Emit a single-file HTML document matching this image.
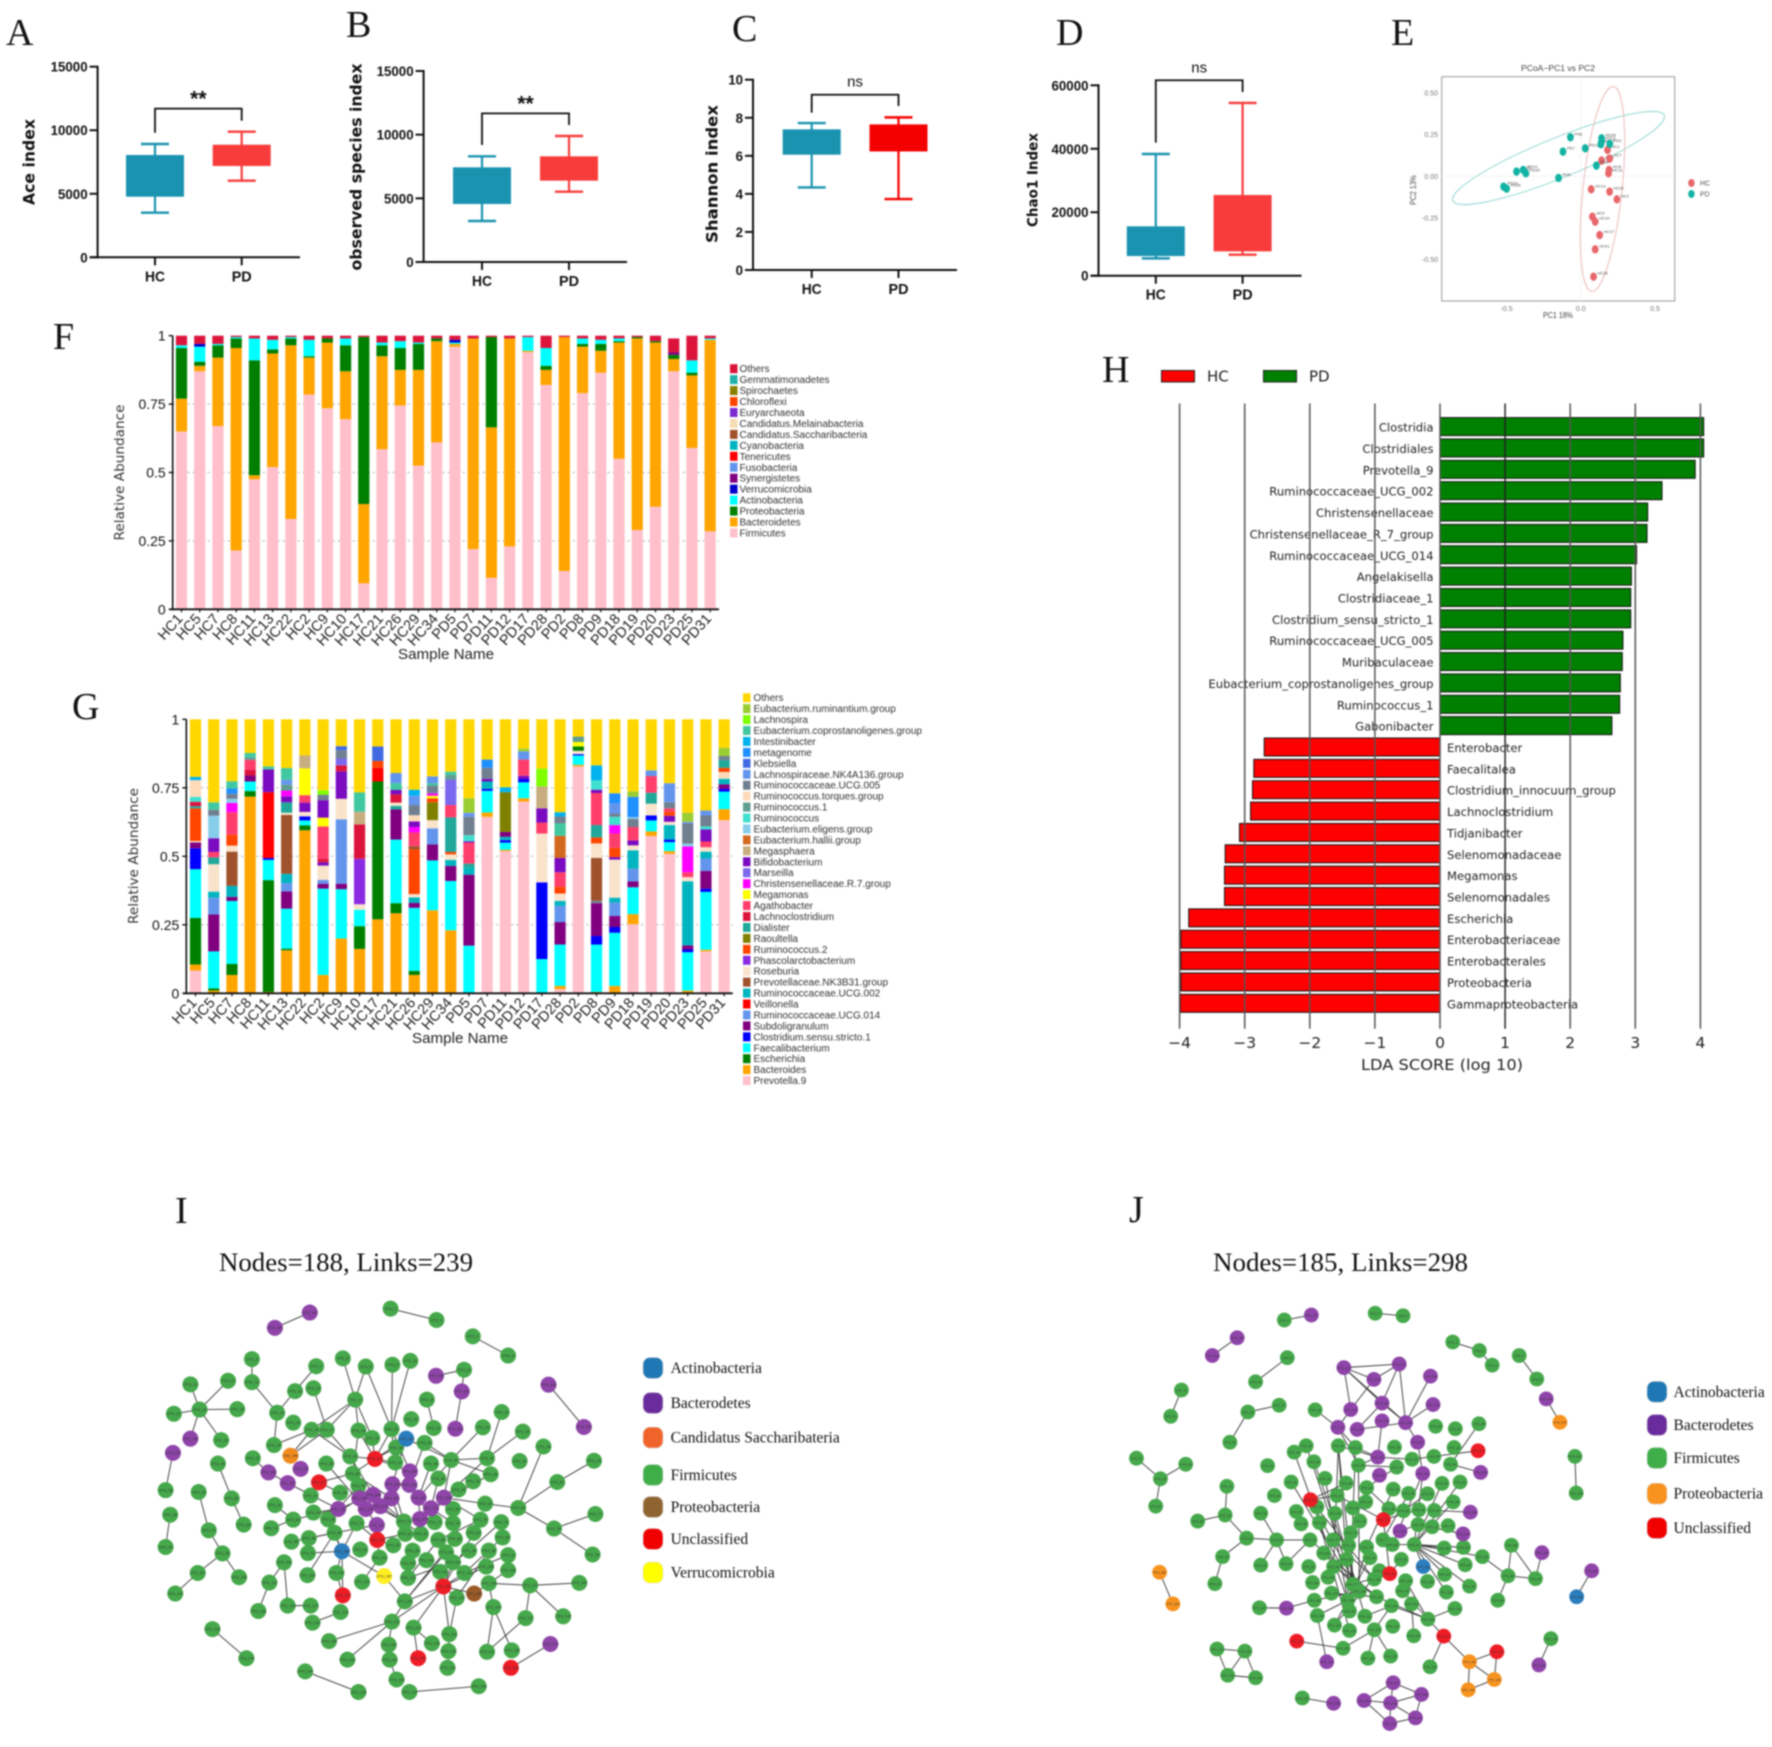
<!DOCTYPE html>
<html lang="en">
<head>
<meta charset="utf-8">
<title>Gut microbiota composite figure</title>
<style>
html,body{margin:0;padding:0;background:#fff;}
#figure{display:block;width:1772px;height:1747px;filter:blur(0.7px);}
text{font-family:"Liberation Sans",sans-serif;fill:#111;}
.serif{font-family:"Liberation Serif",serif;}
.dv{font-family:"DejaVu Sans","Liberation Sans",sans-serif;}
</style>
</head>
<body>
<svg id="figure" xmlns="http://www.w3.org/2000/svg" width="1772" height="1747" viewBox="0 0 1772 1747">
<rect x="0" y="0" width="1772" height="1747" fill="#fff"/>
<text class="serif" x="6" y="45" font-size="38">A</text>
<text class="serif" x="346" y="37" font-size="38">B</text>
<text class="serif" x="732" y="41" font-size="38">C</text>
<text class="serif" x="1056" y="45" font-size="38">D</text>
<text class="serif" x="1391" y="45" font-size="38">E</text>
<text class="serif" x="53" y="349" font-size="38">F</text>
<text class="serif" x="72" y="719" font-size="38">G</text>
<text class="serif" x="1102" y="382" font-size="38">H</text>
<text class="serif" x="175" y="1223" font-size="38">I</text>
<text class="serif" x="1129" y="1222" font-size="38">J</text>
<text class="serif" x="219" y="1271" font-size="26" textLength="254" lengthAdjust="spacingAndGlyphs">Nodes=188, Links=239</text>
<text class="serif" x="1213" y="1271" font-size="26" textLength="255" lengthAdjust="spacingAndGlyphs">Nodes=185, Links=298</text>
</svg>
<script>
/* ---------- box plot data: [whisker low, q1, q3, whisker high] ---------- */
const aceHC=[3510,4770,8050,8916];
const acePD=[6030,7185,8860,9886];
const aceTicks=[0,5000,10000,15000];
const aceBracket=[11700,9800,10750];
const obsHC=[3220,4555,7435,8300];
const obsPD=[5525,6390,8300,9895];
const obsTicks=[0,5000,10000,15000];
const obsBracket=[11675,9190,10760];
const shanHC=[4.34,6.06,7.39,7.72];
const shanPD=[3.73,6.23,7.65,8.02];
const shanTicks=[0,2,4,6,8,10];
const shanBracket=[9.21,8.27,8.62];
const chaoHC=[5460,6200,15550,38350];
const chaoPD=[6620,7670,25430,54430];
const chaoTicks=[0,20000,40000,60000];
const chaoBracket=[61580,41930,57900];

/* ---------- PCoA data ---------- */
const pcoaPC1Ticks=[-0.5,0,0.5];
const pcoaPC2Ticks=[-0.5,-0.25,0,0.25,0.5];
const pcoaHCx=[.18,.14,.194,.19,.187,.07,.194,.243,.078,.097,.127,.097,.086];
const pcoaHCy=[.158,.094,.106,.038,.018,-.078,-.092,-.138,-.242,-.272,-.352,-.438,-.602];
const pcoaPDx=[-.07,-.12,.03,.14,.135,.14,.195,.105,-.15,-.433,-.388,-.37,-.52,-.5];
const pcoaPDy=[.234,.148,.168,.208,.192,.228,.194,.064,-.01,.028,.038,.018,-.062,-.074];
const pcoaHCNames=['HC1','HC5','HC7','HC8','HC11','HC13','HC22','HC2','HC9','HC10','HC17','HC21','HC26'];
const pcoaPDNames=['PD5','PD7','PD11','PD12','PD17','PD28','PD2','PD8','PD9','PD18','PD19','PD20','PD23','PD25'];

/* ---------- stacked bars ---------- */
const sampleNames=['HC1','HC5','HC7','HC8','HC11','HC13','HC22','HC2','HC9','HC10','HC17','HC21','HC26','HC29','HC34','PD5','PD7','PD11','PD12','PD17','PD28','PD2','PD8','PD9','PD18','PD19','PD20','PD23','PD25','PD31'];
const abundanceTicks=[0,0.25,0.5,0.75,1];
const phylumLegend=['Others','Gemmatimonadetes','Spirochaetes','Chloroflexi','Euryarchaeota','Candidatus.Melainabacteria','Candidatus.Saccharibacteria','Cyanobacteria','Tenericutes','Fusobacteria','Synergistetes','Verrucomicrobia','Actinobacteria','Proteobacteria','Bacteroidetes','Firmicutes'];
const phylumColors=['#DC143C','#20B2AA','#8B8000','#FF4500','#7B2BD0','#F5DEB3','#A0522D','#00B5C0','#FF0000','#6495ED','#800080','#0000CD','#00FFFF','#007F00','#FFA500','#FFC0CB'];
const firmicutes=[.65,.87,.67,.215,.475,.52,.33,.785,.735,.695,.095,.585,.745,.525,.61,.96,.22,.115,.23,.94,.82,.14,.79,.865,.55,.29,.375,.87,.59,.285];
const bacteroidetes=[.12,.02,.25,.74,.015,.415,.635,.135,.24,.175,.29,.34,.13,.35,.37,.01,.77,.55,.76,.005,.055,.855,.17,.08,.425,.70,.60,.045,.265,.70];
const proteobacteria=[.185,.015,.045,.035,.42,.015,.025,.005,.015,.095,.61,.04,.08,.095,.01,0,0,.33,0,0,.015,0,.01,.025,.005,.005,.005,.015,.01,0];
const actinobacteria=[.01,.055,.005,.005,.08,.035,.005,.06,0,.025,0,.01,.025,.005,0,.005,0,0,0,.05,.065,0,.02,.015,.01,0,0,0,.045,.005];
const verrucomicrobia=[0,.01,0,0,0,0,0,0,0,0,0,0,0,0,0,.01,0,0,0,0,0,0,0,0,0,0,0,0,0,0];
const synergistetes=[0,0,0,0,0,0,0,0,0,0,0,0,0,0,0,0,0,0,0,0,0,0,0,0,0,0,0,.01,0,0];
const phylumOthers=[.035,.03,.03,.005,.01,.015,.005,.015,.01,.01,.005,.025,.02,.025,.01,.015,.01,.005,.01,.005,.045,.005,.01,.015,.01,.005,.02,.05,.09,.01];

const genusLegend=['Others','Eubacterium.ruminantium.group','Lachnospira','Eubacterium.coprostanoligenes.group','Intestinibacter','metagenome','Klebsiella','Lachnospiraceae.NK4A136.group','Ruminococcaceae.UCG.005','Ruminococcus.torques.group','Ruminococcus.1','Ruminococcus','Eubacterium.eligens.group','Eubacterium.hallii.group','Megasphaera','Bifidobacterium','Marseilla','Christensenellaceae.R.7.group','Megamonas','Agathobacter','Lachnoclostridium','Dialister','Raoultella','Ruminococcus.2','Phascolarctobacterium','Roseburia','Prevotellaceae.NK3B31.group','Ruminococcaceae.UCG.002','Veillonella','Ruminococcaceae.UCG.014','Subdoligranulum','Clostridium.sensu.stricto.1','Faecalibacterium','Escherichia','Bacteroides','Prevotella.9'];
const genusKeys=['Oth','Rmn','Lch','Cop','Int','Met','Kle','NK4','U05','Tor','R1','Rum','Eli','Hal','Mgs','Bif','Mar','Chr','Meg','Aga','Lac','Dia','Rao','R2','Pha','Ros','Pre','U02','Vei','U14','Sub','Css','Fae','Esc','Bac','P9'];
const genusColors=['#FFD700','#9ACD32','#7FFF00','#40C8A0','#00B2EE','#1E90FF','#4169E1','#6495ED','#708090','#FFDAB9','#5F9E90','#40E0D0','#87CEEB','#D2691E','#C8AD7F','#7A0BC0','#7B68EE','#FF00FF','#FFFF00','#FF3E6C','#DC143C','#20A89A','#808000','#FF4500','#8A2BE2','#FAE3CB','#A0522D','#00B5C0','#FF0000','#6495ED','#800080','#0000FF','#00FFFF','#008000','#FFA500','#FFC0CB'];
/* one flat stack per sample, bottom to top: genus key, abundance */
const gHC1=['P9',.083,'Bac',.022,'Esc',.17,'Fae',.178,'Css',.076,'Sub',.022,'Ros',.005,'R2',.119,'Dia',.008,'Lac',.016,'Rum',.018,'Tor',.061,'Int',.012,'Oth',.21];
const gHC5=['Bac',.01,'Esc',.008,'Fae',.135,'Sub',.135,'U14',.061,'U02',.022,'Ros',.10,'Dia',.025,'Aga',.02,'Bif',.05,'Eli',.082,'U05',.022,'Cop',.027,'Oth',.303];
const gHC7=['Bac',.067,'Esc',.04,'Fae',.23,'Sub',.015,'U02',.04,'Pre',.125,'Ros',.022,'R2',.04,'Aga',.082,'Chr',.034,'Eli',.015,'U05',.018,'Met',.02,'Cop',.026,'Oth',.226];
const gHC8=['Bac',.718,'Esc',.02,'Fae',.035,'Sub',.022,'Lac',.02,'Aga',.037,'R1',.009,'Cop',.016,'Oth',.123];
const gHC11=['Bac',.005,'Esc',.408,'Fae',.074,'Css',.007,'Vei',.24,'Bif',.083,'Cop',.011,'Oth',.172];
const gHC13=['Bac',.157,'Esc',.006,'Fae',.146,'Sub',.063,'U14',.03,'U02',.034,'Pre',.215,'Ros',.008,'Dia',.038,'Bif',.022,'Chr',.021,'R1',.021,'NK4',.018,'Cop',.043,'Oth',.178];
const gHC22=['Bac',.595,'Esc',.018,'Fae',.018,'Css',.015,'Ros',.016,'Bif',.034,'Aga',.027,'Meg',.098,'Mgs',.047,'Oth',.132];
const gHC2=['Bac',.067,'Fae',.315,'Sub',.018,'U14',.014,'Ros',.052,'Bif',.012,'Lac',.012,'Aga',.119,'Meg',.032,'Bif',.064,'U05',.02,'Lch',.016,'Oth',.259];
const gHC9=['Bac',.2,'Fae',.18,'Sub',.02,'U14',.235,'Ros',.075,'Bif',.1,'Lac',.022,'Mar',.025,'U05',.03,'Kle',.015,'Oth',.098];
const gHC10=['Bac',.162,'Esc',.083,'Fae',.06,'Ros',.02,'Pha',.166,'Lac',.125,'Mgs',.047,'Cop',.07,'Oth',.267];
const gHC17=['Bac',.27,'Esc',.503,'Vei',.05,'R2',.025,'Kle',.053,'Oth',.099];
const gHC21=['Bac',.292,'Esc',.037,'Fae',.232,'Sub',.11,'Dia',.013,'Ros',.012,'Lac',.03,'Bif',.016,'Cop',.025,'U14',.037,'Oth',.196];
const gHC26=['Bac',.067,'Esc',.015,'Fae',.23,'Sub',.018,'U02',.02,'Ros',.012,'R2',.163,'Pre',.012,'Aga',.05,'Chr',.02,'Bif',.02,'Tor',.023,'U05',.037,'NK4',.034,'Int',.022,'Oth',.257];
const gHC29=['Bac',.303,'Fae',.182,'Sub',.058,'U14',.059,'Ros',.03,'Rao',.065,'R2',.015,'Meg',.009,'Chr',.009,'U05',.028,'Cop',.009,'NK4',.025,'Oth',.208];
const gHC34=['Bac',.23,'Fae',.18,'Sub',.055,'U02',.022,'Ros',.02,'R2',.009,'Dia',.126,'Aga',.045,'Mar',.093,'R1',.017,'Cop',.012,'Oth',.191];
const gPD5=['Fae',.174,'Sub',.259,'U02',.025,'Dia',.015,'Aga',.077,'Bif',.005,'Rum',.022,'U05',.067,'NK4',.015,'Rmn',.053,'Oth',.288];
const gPD7=['P9',.644,'Bac',.016,'Fae',.079,'Css',.007,'U02',.027,'Bif',.01,'U05',.04,'Met',.03,'Oth',.147];
const gPD11=['P9',.519,'Bac',.005,'Fae',.026,'Css',.009,'U02',.012,'Sub',.018,'Rao',.145,'Int',.018,'Oth',.248];
const gPD12=['P9',.70,'Bac',.012,'Fae',.058,'Css',.012,'Bif',.012,'Aga',.059,'U14',.03,'Rmn',.01,'Oth',.107];
const gPD17=['Fae',.125,'Css',.28,'Ros',.178,'Aga',.04,'Bif',.052,'Mgs',.08,'Lch',.065,'Oth',.18];
const gPD28=['P9',.015,'Bac',.012,'Fae',.151,'Sub',.082,'U14',.059,'U02',.018,'Ros',.027,'R2',.025,'Aga',.053,'Bif',.052,'Hal',.081,'Cop',.045,'U05',.025,'Int',.016,'Oth',.339];
const gPD2=['P9',.828,'Bac',.006,'Fae',.034,'Css',.005,'Ros',.012,'Esc',.016,'Meg',.016,'R1',.02,'Oth',.063];
const gPD8=['Bac',.005,'Fae',.173,'Css',.031,'Sub',.12,'U05',.009,'Pre',.156,'Ros',.053,'R2',.022,'Dia',.045,'Aga',.117,'Bif',.012,'Rum',.034,'Int',.055,'Oth',.168];
const gPD9=['Bac',.027,'Fae',.194,'Css',.021,'Sub',.04,'U14',.049,'U02',.018,'Ros',.139,'Bif',.009,'R2',.034,'Aga',.052,'Chr',.031,'Rum',.03,'U05',.012,'NK4',.037,'Met',.037,'Oth',.27];
const gPD18=['P9',.252,'Bac',.037,'Fae',.098,'Sub',.021,'U14',.047,'U02',.067,'Ros',.018,'Bif',.018,'Aga',.049,'U05',.03,'Eli',.006,'Met',.074,'Rmn',.02,'Oth',.263];
const gPD19=['P9',.574,'Bac',.017,'Fae',.04,'Css',.018,'Ros',.043,'Dia',.04,'Aga',.061,'U14',.021,'Oth',.186];
const gPD20=['P9',.509,'Bac',.01,'Fae',.033,'Css',.009,'U02',.053,'Ros',.012,'Bif',.022,'R2',.015,'Aga',.012,'U05',.022,'NK4',.07,'Oth',.233];
const gPD23=['Bac',.01,'Fae',.14,'Css',.01,'Sub',.015,'U02',.234,'Ros',.015,'Aga',.018,'Chr',.094,'Eli',.01,'U05',.074,'NK4',.006,'Rmn',.033,'Oth',.341];
const gPD25=['P9',.153,'Bac',.006,'Fae',.211,'Css',.012,'Sub',.065,'U14',.045,'U02',.025,'Ros',.016,'Aga',.021,'Bif',.044,'Rum',.011,'U05',.04,'NK4',.018,'Oth',.333];
const gPD31=['P9',.632,'Bac',.04,'Fae',.064,'Css',.01,'Sub',.017,'U02',.02,'Tor',.025,'R2',.015,'Dia',.028,'U05',.015,'Rmn',.03,'Oth',.104];
const genusStacks=[gHC1,gHC5,gHC7,gHC8,gHC11,gHC13,gHC22,gHC2,gHC9,gHC10,gHC17,gHC21,gHC26,gHC29,gHC34,gPD5,gPD7,gPD11,gPD12,gPD17,gPD28,gPD2,gPD8,gPD9,gPD18,gPD19,gPD20,gPD23,gPD25,gPD31];

/* ---------- LDA ---------- */
const ldaTicks=[-4,-3,-2,-1,0,1,2,3,4];
const ldaNames=['Clostridia','Clostridiales','Prevotella_9','Ruminococcaceae_UCG_002','Christensenellaceae','Christensenellaceae_R_7_group','Ruminococcaceae_UCG_014','Angelakisella','Clostridiaceae_1','Clostridium_sensu_stricto_1','Ruminococcaceae_UCG_005','Muribaculaceae','Eubacterium_coprostanoligenes_group','Ruminococcus_1','Gabonibacter','Enterobacter','Faecalitalea','Clostridium_innocuum_group','Lachnoclostridium','Tidjanibacter','Selenomonadaceae','Megamonas','Selenomonadales','Escherichia','Enterobacteriaceae','Enterobacterales','Proteobacteria','Gammaproteobacteria'];
const ldaScores=[4.05,4.05,3.92,3.41,3.19,3.18,3.02,2.94,2.93,2.93,2.81,2.80,2.77,2.76,2.64,-2.70,-2.86,-2.88,-2.91,-3.08,-3.30,-3.31,-3.31,-3.86,-3.98,-3.98,-3.98,-3.99];

/* ---------- network I (layout units) ---------- */
const netIFirmicutes=[[524,334],[624,366],[703,412],[780,466],[222,476],[420,474],[362,496],[470,497],[528,492],[567,481],[684,506],[170,537],[88,547],[222,541],[356,558],[316,566],[447,590],[603,590],[766,625],[108,618],[52,630],[190,617],[277,627],[312,655],[155,704],[352,675],[385,675],[454,677],[526,673],[569,645],[618,670],[725,668],[812,680],[484,698],[598,712],[270,718],[224,755],[857,722],[436,750],[536,725],[656,760],[734,755],[805,763],[967,762],[148,770],[384,770],[534,767],[612,770],[742,800],[442,798],[887,822],[704,820],[628,812],[672,843],[454,832],[414,852],[350,860],[34,845],[106,850],[178,868],[272,887],[730,883],[802,895],[356,908],[312,928],[388,927],[660,898],[44,914],[204,942],[264,952],[450,938],[553,933],[620,935],[660,938],[720,928],[765,935],[970,912],[880,953],[128,958],[402,965],[556,968],[590,968],[705,965],[768,978],[308,990],[346,980],[530,1000],[628,985],[664,982],[34,1005],[344,1022],[458,1012],[572,1015],[645,1020],[695,1015],[738,1015],[780,1028],[964,1026],[158,1023],[292,1048],[500,1035],[562,1050],[602,1042],[660,1048],[732,1060],[780,1070],[104,1078],[194,1090],[343,1084],[406,1078],[632,1075],[685,1078],[562,1092],[462,1103],[260,1105],[738,1107],[828,1113],[935,1106],[55,1136],[300,1170],[350,1170],[555,1158],[668,1148],[748,1174],[236,1185],[415,1188],[818,1205],[900,1200],[354,1218],[527,1215],[574,1232],[652,1250],[136,1236],[390,1270],[614,1276],[520,1280],[734,1300],[788,1296],[650,1298],[210,1318],[430,1322],[522,1322],[648,1345],[338,1355],[537,1378],[454,1413],[565,1413],[716,1397]];
const netIBacteroidetes=[[348,345],[272,388],[623,523],[679,567],[868,548],[945,667],[665,672],[88,700],[50,740],[258,795],[328,785],[300,825],[566,792],[528,828],[565,830],[486,858],[456,868],[526,868],[585,866],[640,866],[410,898],[470,898],[502,890],[612,896],[588,926],[494,943],[872,1278]];
const netIUnclassified=[[490,757],[368,823],[495,985],[420,1141],[639,1116],[584,1318],[786,1345]];
const netIActinobacteria=[[558,700],[418,1017]];
const netISaccharibacteria=[[306,748]];
const netIProteobacteria=[[706,1136]];
const netIVerrucomicrobia=[[510,1087]];
const netIEdges=[[524,334,624,366],[703,412,780,466],[348,345,272,388],[222,476,222,541],[222,541,277,627],[170,537,108,618],[88,547,108,618],[52,630,108,618],[190,617,108,618],[108,618,88,700],[108,618,155,704],[362,496,316,566],[316,566,277,627],[277,627,270,718],[420,474,447,590],[470,497,447,590],[470,497,526,673],[528,492,526,673],[567,481,526,673],[623,523,684,506],[684,506,679,567],[679,567,665,672],[868,548,945,667],[766,625,734,755],[603,590,618,670],[447,590,385,675],[447,590,352,675],[447,590,454,677],[447,590,484,698],[356,558,385,675],[352,675,270,718],[812,680,734,755],[725,668,656,760],[656,760,558,700],[656,760,598,712],[656,760,734,755],[656,760,742,800],[857,722,802,895],[967,762,887,822],[887,822,802,895],[802,895,730,883],[802,895,880,953],[970,912,880,953],[880,953,964,1026],[730,883,640,866],[148,770,178,868],[178,868,204,942],[50,740,34,845],[44,914,34,1005],[106,850,128,958],[128,958,158,1023],[158,1023,104,1078],[104,1078,55,1136],[158,1023,194,1090],[292,1048,260,1105],[292,1048,300,1170],[300,1170,350,1170],[260,1105,236,1185],[224,755,258,795],[258,795,300,825],[300,825,410,898],[306,748,352,675],[306,748,385,675],[490,757,436,750],[490,757,536,725],[490,757,442,798],[490,757,526,673],[490,757,454,677],[490,757,484,698],[490,757,558,700],[490,757,534,767],[490,757,566,792],[368,823,442,798],[368,823,414,852],[368,823,350,860],[454,677,442,798],[385,675,436,750],[352,675,436,750],[526,673,534,767],[526,673,566,792],[558,700,528,828],[598,712,565,830],[612,770,585,866],[628,812,612,896],[672,843,640,866],[656,760,585,866],[656,760,640,866],[734,755,640,866],[742,800,612,896],[704,820,588,926],[436,750,486,858],[442,798,526,868],[454,832,502,890],[384,770,470,898],[410,898,486,858],[410,898,454,832],[456,868,553,933],[486,858,553,933],[526,868,556,968],[585,866,590,968],[612,896,660,938],[640,866,720,928],[470,898,494,943],[502,890,590,968],[528,828,553,933],[565,830,620,935],[566,792,526,868],[388,927,456,868],[356,908,410,898],[312,928,410,898],[264,952,312,928],[272,887,312,928],[402,965,494,943],[346,980,402,965],[308,990,402,965],[344,1022,418,1017],[343,1084,402,965],[418,1017,402,965],[418,1017,388,927],[418,1017,450,938],[418,1017,510,1087],[418,1017,406,1078],[418,1017,420,1141],[420,1141,406,1078],[495,985,494,943],[495,985,530,1000],[495,985,500,1035],[495,985,450,938],[495,985,556,968],[500,1035,462,1103],[510,1087,555,1158],[639,1116,555,1158],[639,1116,660,1048],[639,1116,527,1215],[639,1116,574,1232],[639,1116,652,1250],[639,1116,685,1078],[639,1116,632,1075],[639,1116,668,1148],[706,1136,738,1107],[706,1136,639,1116],[555,1158,527,1215],[527,1215,390,1270],[527,1215,520,1280],[520,1280,522,1322],[522,1322,537,1378],[430,1322,527,1215],[574,1232,584,1318],[652,1250,668,1148],[652,1250,650,1298],[650,1298,648,1345],[614,1276,574,1232],[748,1174,738,1107],[748,1174,734,1300],[748,1174,788,1296],[818,1205,734,1300],[828,1113,738,1107],[828,1113,935,1106],[828,1113,818,1205],[828,1113,900,1200],[872,1278,786,1345],[136,1236,210,1318],[338,1355,454,1413],[565,1413,716,1397],[354,1218,415,1188],[628,985,562,1092],[645,1020,555,1158],[660,1048,562,1092],[695,1015,632,1075],[738,1015,668,1148],[705,965,639,1116],[768,978,685,1078],[780,1028,685,1078],[732,1060,639,1116],[720,928,628,985],[765,935,695,1015],[664,982,555,1158],[780,1070,738,1107]];

/* ---------- network J (layout units) ---------- */
const netJFirmicutes=[[430,366],[642,347],[707,354],[823,428],[885,452],[915,493],[978,466],[1019,532],[437,472],[363,540],[190,563],[165,637],[418,606],[345,625],[502,619],[303,710],[85,755],[200,772],[141,813],[130,890],[296,834],[292,915],[228,932],[342,980],[412,985],[286,1032],[268,1108],[375,910],[375,1056],[434,1052],[391,776],[446,822],[407,860],[453,738],[481,720],[556,720],[596,725],[687,724],[499,765],[603,775],[692,780],[728,758],[779,750],[826,725],[818,772],[783,665],[829,672],[884,658],[574,825],[525,812],[798,826],[840,822],[684,842],[622,838],[720,854],[764,855],[553,860],[824,878],[506,892],[458,905],[590,895],[548,910],[620,878],[674,897],[708,903],[744,900],[780,902],[469,940],[512,936],[606,932],[660,985],[742,942],[775,948],[812,945],[585,965],[490,985],[544,985],[580,1000],[622,1005],[682,998],[733,998],[803,1008],[848,1006],[892,1032],[960,1000],[952,1086],[1016,1094],[928,1155],[522,1022],[575,1040],[630,1035],[703,1040],[852,1055],[487,1060],[545,1060],[652,1072],[804,1082],[862,1115],[496,1105],[532,1090],[590,1110],[640,1095],[713,1100],[764,1102],[808,1132],[500,1155],[540,1135],[578,1155],[605,1130],[645,1145],[706,1128],[680,1170],[727,1165],[372,1176],[828,1178],[507,1198],[582,1185],[618,1200],[765,1208],[547,1225],[683,1228],[582,1240],[640,1238],[732,1255],[567,1290],[625,1318],[678,1312],[770,1342],[273,1292],[338,1298],[298,1366],[363,1373],[472,1430],[1108,750],[1111,853],[1052,1263]];
const netJBacteroidetes=[[493,352],[320,416],[262,466],[569,500],[698,490],[771,524],[639,533],[585,618],[658,600],[777,604],[555,668],[600,674],[658,650],[713,655],[741,710],[648,752],[652,803],[753,798],[888,795],[864,907],[700,960],[847,968],[1031,1021],[435,1177],[1147,1072],[1041,588],[529,1328],[1024,1337],[545,1445],[616,1437],[684,1387],[750,1420],[678,1444],[676,1502],[736,1486]];
const netJUnclassified=[[882,734],[491,872],[661,928],[676,1080],[459,1270],[802,1256],[926,1300]];
const netJProteobacteria=[[1073,654],[139,1076],[170,1165],[862,1328],[920,1378],[859,1407]];
const netJActinobacteria=[[754,1060],[1112,1145]];
const netJEdges=[[430,366,493,352],[642,347,707,354],[823,428,885,452],[885,452,915,493],[978,466,1019,532],[1041,588,1073,654],[320,416,262,466],[437,472,363,540],[190,563,165,637],[418,606,345,625],[345,625,303,710],[85,755,141,813],[200,772,141,813],[141,813,130,890],[296,834,292,915],[292,915,228,932],[292,915,342,980],[342,980,412,985],[342,980,286,1032],[286,1032,268,1108],[412,985,375,1056],[412,985,434,1052],[412,985,490,985],[375,910,412,985],[434,1052,490,985],[139,1076,170,1165],[372,1176,435,1177],[435,1177,500,1155],[1108,750,1111,853],[1147,1072,1112,1145],[1052,1263,1024,1337],[472,1430,545,1445],[569,500,698,490],[569,500,585,618],[569,500,639,533],[569,500,658,600],[569,500,713,655],[698,490,639,533],[698,490,658,600],[698,490,713,655],[639,533,585,618],[771,524,713,655],[777,604,713,655],[585,618,555,668],[658,600,600,674],[658,600,713,655],[658,650,648,752],[713,655,741,710],[600,674,713,655],[502,619,555,668],[555,668,596,725],[555,668,603,775],[741,710,753,798],[648,752,596,725],[648,752,556,720],[648,752,603,775],[684,1387,616,1437],[684,1387,750,1420],[684,1387,678,1444],[616,1437,678,1444],[616,1437,676,1502],[678,1444,750,1420],[678,1444,736,1486],[678,1444,676,1502],[750,1420,736,1486],[676,1502,736,1486],[273,1292,338,1298],[273,1292,298,1366],[338,1298,298,1366],[338,1298,363,1373],[298,1366,363,1373],[802,1256,862,1328],[802,1256,770,1342],[862,1328,926,1300],[862,1328,920,1378],[862,1328,859,1407],[920,1378,859,1407],[926,1300,920,1378],[960,1000,952,1086],[1031,1021,1016,1094],[960,1000,1016,1094],[952,1086,1016,1094],[952,1086,928,1155],[892,1032,952,1086],[733,998,892,1032],[733,998,848,1006],[733,998,803,1008],[733,998,852,1055],[733,998,862,1115],[733,998,808,1132],[733,998,804,1082],[733,998,754,1060],[459,1270,567,1290],[567,1290,640,1238],[507,1198,529,1328],[640,1238,625,1318],[640,1238,678,1312],[640,1238,680,1170],[732,1255,727,1165],[765,1208,828,1178],[765,1208,802,1256],[680,1170,765,1208],[882,734,779,750],[884,658,818,772],[888,795,818,772],[864,907,780,902],[847,968,742,942],[491,872,553,860],[491,872,574,825],[556,720,575,1040],[556,720,545,1060],[556,720,590,1110],[525,812,578,1155],[446,822,590,1110],[603,775,605,1130],[481,720,590,1110],[499,765,605,1130],[453,738,578,1155],[596,725,582,1185],[548,910,618,1200],[512,936,582,1240],[491,872,605,1130],[491,872,640,1095],[544,985,640,1095],[490,985,645,1145],[522,1022,605,1130],[545,1060,645,1145],[500,1155,605,1130],[540,1135,645,1145],[580,1000,578,1155],[622,1005,582,1185],[585,965,590,1110],[630,1035,547,1225],[652,1072,547,1225],[661,928,676,1080],[661,928,553,860],[661,928,744,900],[700,960,742,942],[676,1080,590,1110],[676,1080,703,1040],[682,998,733,998],[622,838,674,897],[684,842,622,1005],[720,854,660,985],[764,855,708,903],[798,826,733,998],[840,822,733,998],[824,878,733,998],[753,798,733,998],[753,798,682,998],[692,780,622,838],[603,775,692,780],[728,758,648,752],[728,758,779,750],[680,1170,618,1200],[507,1198,578,1155],[713,1100,765,1208],[706,1128,765,1208],[645,1145,765,1208]];

const networkLegendI=['Actinobacteria','Bacterodetes','Candidatus Saccharibateria','Firmicutes','Proteobacteria','Unclassified','Verrucomicrobia'];
const networkLegendIColors=['#1f78b4','#6a2c9c','#f0642c','#3fae49','#8f6431','#f00000','#ffff00'];
const networkLegendJ=['Actinobacteria','Bacterodetes','Firmicutes','Proteobacteria','Unclassified'];
const networkLegendJColors=['#1f78b4','#6a2c9c','#3fae49','#f7931e','#f00000'];

/* ---------- drawing helpers ---------- */
const NS='http://www.w3.org/2000/svg';
const svg=document.getElementById('figure');
function mk(tag,attrs,parent){
  const e=document.createElementNS(NS,tag);
  for(const k in attrs){e.setAttribute(k,attrs[k]);}
  (parent||svg).appendChild(e);
  return e;
}
function group(parent){return mk('g',{},parent);}
function line(x1,y1,x2,y2,stroke,w,parent){return mk('line',{x1:x1,y1:y1,x2:x2,y2:y2,stroke:stroke,'stroke-width':w},parent);}
function txt(str,attrs,parent){const t=mk('text',attrs,parent);t.textContent=str;return t;}

/* ---------- box plots ---------- */
function drawBoxPanel(p){
  const g=group();
  
  
  const y=v=>p.y0-v/p.max*(p.y0-p.yTop);
  const boxes=[[p.hcX,p.hc,'#1a93b0','HC'],[p.pdX,p.pd,p.pdColor,'PD']];
  boxes.forEach(b=>{
    const cx=b[0],d=b[1],col=b[2];
    const stem=line(cx,y(d[0]),cx,y(d[3]),col,2.2,g);
    
    
    const capLo=line(cx-14,y(d[0]),cx+14,y(d[0]),col,2.4,g);
    
    
    const capHi=line(cx-14,y(d[3]),cx+14,y(d[3]),col,2.4,g);
    
    
    const box=mk('rect',{x:cx-29,y:y(d[2]),width:58,height:y(d[1])-y(d[2]),fill:col},g);
    
    
    const tick=line(cx,p.y0,cx,p.y0+8,'#111',2,g);
    
    
    const lab=txt(b[3],{x:cx,y:p.y0+24,'font-size':15,'font-weight':'bold','text-anchor':'middle',textLength:20,lengthAdjust:'spacingAndGlyphs'},g);
    
    
  });
  const yAxis=line(p.x0,p.y0+1,p.x0,p.yTop-1,'#111',2,g);
  
  
  const xAxis=line(p.x0-8,p.y0,p.xEnd,p.y0,'#111',2,g);
  
  
  p.ticks.forEach(v=>{
    const t=line(p.x0-8,y(v),p.x0,y(v),'#111',2,g);
    
    
    const s=String(v);
    const l=txt(s,{x:p.x0-10,y:y(v)+5,'font-size':14,'font-weight':'bold','text-anchor':'end',textLength:s.length*7.4,lengthAdjust:'spacingAndGlyphs'},g);
    
    
  });
  const b=p.bracket;
  const br=mk('path',{d:'M'+p.hcX+' '+y(b[1])+'V'+y(b[0])+'H'+p.pdX+'V'+y(b[2]),fill:'none',stroke:'#111','stroke-width':1.8},g);
  
  
  const mid=(p.hcX+p.pdX)/2;
  const sig=txt(p.sig,{x:mid,y:y(b[0])-(p.sig==='**'?3:8),'font-size':p.sig==='**'?21:15,'font-weight':p.sig==='**'?'bold':'normal','text-anchor':'middle'},g);
  
  
  const title=txt(p.title,{x:p.titleX,y:p.titleY,'font-size':p.titleSize,'font-weight':'bold','text-anchor':'middle',textLength:p.titleLen,lengthAdjust:'spacingAndGlyphs',transform:'rotate(-90 '+p.titleX+' '+p.titleY+')','dominant-baseline':'middle',class:'dv'},g);
  
  
}
drawBoxPanel({id:'ace',x0:97.6,xEnd:300,y0:257.3,yTop:66.7,max:15000,ticks:aceTicks,hcX:155,pdX:241.7,hc:aceHC,pd:acePD,pdColor:'#f83c3c',bracket:aceBracket,sig:'**',title:'Ace index',titleX:30,titleY:162,titleLen:86,titleSize:16});
drawBoxPanel({id:'observed-species',x0:423.6,xEnd:627,y0:262,yTop:71,max:15000,ticks:obsTicks,hcX:482,pdX:569,hc:obsHC,pd:obsPD,pdColor:'#f83c3c',bracket:obsBracket,sig:'**',title:'observed species index',titleX:357,titleY:167,titleLen:207,titleSize:16});
drawBoxPanel({id:'shannon',x0:753,xEnd:957,y0:270,yTop:79.7,max:10,ticks:shanTicks,hcX:811.7,pdX:898.5,hc:shanHC,pd:shanPD,pdColor:'#f50000',bracket:shanBracket,sig:'ns',title:'Shannon index',titleX:713,titleY:174,titleLen:138,titleSize:16});
drawBoxPanel({id:'chao1',x0:1098.5,xEnd:1301.5,y0:275.7,yTop:85.3,max:60000,ticks:chaoTicks,hcX:1155.8,pdX:1242.6,hc:chaoHC,pd:chaoPD,pdColor:'#f83c3c',bracket:chaoBracket,sig:'ns',title:'Chao1 Index',titleX:1033.5,titleY:180,titleLen:94,titleSize:14.5});

/* ---------- PCoA ---------- */
(function(){
  const g=group();
  
  
  const X=v=>1580.8+v*148.4;
  const Y=v=>176.3-v*166.8;
  const frame=mk('rect',{x:1441.7,y:76.7,width:233,height:224.3,fill:'none',stroke:'#999','stroke-width':1},g);
  
  
  const hz=line(1441.7,Y(0),1674.7,Y(0),'#f4f4f4',1,g);
  
  
  const vz=line(X(0),76.7,X(0),301,'#f4f4f4',1,g);
  
  
  const e1=mk('ellipse',{cx:1558.5,cy:158,rx:114,ry:20,fill:'none',stroke:'#9edcd6','stroke-width':1.1,transform:'rotate(-22 1558.5 158)'},g);
  
  
  const e2=mk('ellipse',{cx:1602.5,cy:189,rx:19.5,ry:103,fill:'none',stroke:'#eec0c0','stroke-width':1.1,transform:'rotate(6 1602.5 189)'},g);
  
  
  pcoaPC1Ticks.forEach(v=>{
    const l=txt(v.toFixed(1),{x:X(v),y:311,'font-size':7,'text-anchor':'middle',style:'fill:#777'},g);
    
    
  });
  pcoaPC2Ticks.forEach(v=>{
    const l=txt(v.toFixed(2),{x:1438,y:Y(v)+2.5,'font-size':7,'text-anchor':'end',style:'fill:#777'},g);
    
    
  });
  pcoaHCx.forEach((v,i)=>{
    const c=mk('ellipse',{cx:X(v),cy:Y(pcoaHCy[i]),rx:3.4,ry:4.2,fill:'#e7676b'},g);
    
    
    const l=txt(pcoaHCNames[i],{x:X(v)+4,y:Y(pcoaHCy[i])-2,'font-size':4,style:'fill:#444'},g);
    
    
  });
  pcoaPDx.forEach((v,i)=>{
    const c=mk('ellipse',{cx:X(v),cy:Y(pcoaPDy[i]),rx:3.4,ry:4.2,fill:'#12b3a3'},g);
    
    
    const l=txt(pcoaPDNames[i],{x:X(v)+4,y:Y(pcoaPDy[i])-2,'font-size':4,style:'fill:#444'},g);
    
    
  });
  const t=txt('PCoA−PC1 vs PC2',{x:1558,y:71,'font-size':8,'text-anchor':'middle',textLength:74,lengthAdjust:'spacingAndGlyphs',style:'fill:#444'},g);
  
  
  const xt=txt('PC1 18%',{x:1558,y:318,'font-size':8,'text-anchor':'middle',textLength:30,lengthAdjust:'spacingAndGlyphs',style:'fill:#444'},g);
  
  
  const yt=txt('PC2 13%',{x:1416,y:190,'font-size':8,'text-anchor':'middle',textLength:30,lengthAdjust:'spacingAndGlyphs',transform:'rotate(-90 1416 190)',style:'fill:#444'},g);
  
  
  const lg1=mk('ellipse',{cx:1691.4,cy:183,rx:3.2,ry:4,fill:'#e7676b'},g);
  
  
  const lt1=txt('HC',{x:1700,y:185.5,'font-size':7,style:'fill:#555'},g);
  
  
  const lg2=mk('ellipse',{cx:1691.4,cy:194,rx:3.2,ry:4,fill:'#12b3a3'},g);
  
  
  const lt2=txt('PD',{x:1700,y:196.5,'font-size':7,style:'fill:#555'},g);
  
  
})();

/* ---------- stacked bar frame ---------- */
function drawStackFrame(p,g){
  const y=v=>p.y0-v*(p.y0-p.y1);
  abundanceTicks.forEach(v=>{
    if(v>0&&v<1){
      const gl=line(p.x0,y(v),p.xEnd,y(v),'#aaa',1,g);
      gl.setAttribute('stroke-dasharray','2 3');
      
      
    }
  });
  return y;
}
function drawStackAxes(p,g,y){
  const ya=line(p.x0,p.y0+1,p.x0,p.y1,'#111',1.6,g);
  
  
  const xa=line(p.x0-3,p.y0,p.xEnd,p.y0,'#111',1.8,g);
  
  
  abundanceTicks.forEach(v=>{
    const t=line(p.x0-4,y(v),p.x0,y(v),'#111',1.4,g);
    
    
    const l=txt(String(v),{x:p.x0-7,y:y(v)+5,'font-size':14,'text-anchor':'end'},g);
    
    
  });
  sampleNames.forEach((s,i)=>{
    const cx=p.first+i*p.step;
    const t=line(cx,p.y0,cx,p.y0+3,'#111',1.2,g);
    
    
    const ax=cx+2,ay=p.y0+10;
    const l=txt(s,{x:ax,y:ay,'font-size':14.5,'text-anchor':'end',transform:'rotate(-48 '+ax+' '+ay+')',style:'fill:#222'},g);
    
    
  });
  const yt=txt('Relative Abundance',{x:p.titleX,y:p.titleY,'font-size':13,'text-anchor':'middle',textLength:136,lengthAdjust:'spacingAndGlyphs',transform:'rotate(-90 '+p.titleX+' '+p.titleY+')',class:'dv','dominant-baseline':'middle',style:'fill:#333'},g);
  
  
  const xt=txt('Sample Name',{x:p.xTitleX,y:p.xTitleY,'font-size':15,'text-anchor':'middle',textLength:96,lengthAdjust:'spacingAndGlyphs',style:'fill:#222'},g);
  
  
}
function drawStackLegend(names,colors,sx,tx,ty0,step,g){
  names.forEach((n,i)=>{
    const yy=ty0+i*step;
    const s=mk('rect',{x:sx,y:yy-4.5,width:7.5,height:9,fill:colors[i]},g);
    
    
    const l=txt(n,{x:tx,y:yy+3.5,'font-size':10,style:'fill:#333'},g);
    
    
  });
}

/* phylum stack */
(function(){
  const g=group();
  
  
  const p={x0:172.7,xEnd:719,y0:609.3,y1:335.7,first:181.5,step:18.23,titleX:120.6,titleY:472.5,xTitleX:446,xTitleY:659};
  const y=drawStackFrame(p,g);
  const series=[firmicutes,bacteroidetes,proteobacteria,actinobacteria,verrucomicrobia,synergistetes,phylumOthers];
  const colorIdx=[15,14,13,12,11,10,0];
  sampleNames.forEach((s,i)=>{
    let cum=0;
    series.forEach((vals,k)=>{
      const v=vals[i];
      if(v<=0){return;}
      const r=mk('rect',{x:p.first+i*p.step-5.6,y:y(cum+v),width:11.2,height:y(cum)-y(cum+v),fill:phylumColors[colorIdx[k]]},g);
      
      
      cum+=v;
    });
  });
  drawStackAxes(p,g,y);
  drawStackLegend(phylumLegend,phylumColors,730,739.5,368.7,10.95,g);
})();

/* genus stack */
(function(){
  const g=group();
  
  
  const p={x0:186.3,xEnd:732.8,y0:993.3,y1:719.3,first:195.5,step:18.23,titleX:134.6,titleY:856,xTitleX:460,xTitleY:1043};
  const y=drawStackFrame(p,g);
  genusStacks.forEach((stack,i)=>{
    let cum=0;
    for(let k=0;k<stack.length;k+=2){
      const v=stack[k+1];
      const col=genusColors[genusKeys.indexOf(stack[k])];
      const r=mk('rect',{x:p.first+i*p.step-5.6,y:y(cum+v),width:11.2,height:y(cum)-y(cum+v),fill:col},g);
      
      
      cum+=v;
    }
  });
  drawStackAxes(p,g,y);
  drawStackLegend(genusLegend,genusColors,743,753.5,697.7,10.94,g);
})();

/* ---------- LDA ---------- */
(function(){
  const g=group();
  
  
  const X=v=>1440+v*65.1;
  const rowY=i=>426.6+i*21.36;
  ldaScores.forEach((v,i)=>{
    const x0=Math.min(X(0),X(v));
    const r=mk('rect',{x:x0,y:rowY(i)-9,width:Math.abs(X(v)-X(0)),height:18,fill:v>0?'#008000':'#ff0000',stroke:'#111','stroke-width':1},g);
    
    
    const l=txt(ldaNames[i],{x:v>0?1433.5:1447,y:rowY(i)+5,'font-size':11.6,'text-anchor':v>0?'end':'start',class:'dv',style:'fill:#222'},g);
    
    
  });
  ldaTicks.forEach(v=>{
    const gl=line(X(v),403.5,X(v),1028.8,v===1?'#222':'#555',1.5,g);
    
    
    const l=txt(String(v).replace('-','−'),{x:X(v),y:1048,'font-size':15.5,'text-anchor':'middle',class:'dv',style:'fill:#222'},g);
    
    
  });
  const t=txt('LDA SCORE (log 10)',{x:1442,y:1070,'font-size':15,'text-anchor':'middle',textLength:162,lengthAdjust:'spacingAndGlyphs',class:'dv',style:'fill:#222'},g);
  
  
  const s1=mk('rect',{x:1161.5,y:370.5,width:33,height:11.5,fill:'#ff0000',stroke:'#222','stroke-width':1},g);
  
  
  const l1=txt('HC',{x:1207,y:381.5,'font-size':15,class:'dv',style:'fill:#222'},g);
  
  
  const s2=mk('rect',{x:1263.5,y:370.5,width:33,height:11.5,fill:'#008000',stroke:'#222','stroke-width':1},g);
  
  
  const l2=txt('PD',{x:1309,y:381.5,'font-size':15,class:'dv',style:'fill:#222'},g);
  
  
})();

/* ---------- networks ---------- */
function drawNetwork(id,edges,groups,ox,oy,sx,sy,r,labelSize,prefix){
  const g=group();
  
  
  const X=v=>ox+v/sx;
  const Y=v=>oy+v/sy;
  edges.forEach(e=>{
    const l=line(X(e[0]),Y(e[1]),X(e[2]),Y(e[3]),'#333',0.9,g);
    
    
  });
  let n=0;
  groups.forEach(gr=>{
    gr[0].forEach(pt=>{
      n++;
      const c=mk('circle',{cx:X(pt[0]),cy:Y(pt[1]),r:r,fill:gr[1]},g);
      
      
      const t=txt(prefix+n,{x:X(pt[0]),y:Y(pt[1])+1.3,'font-size':labelSize,'text-anchor':'middle',style:'fill:#333'},g);
      
      
    });
  });
}
function drawNetLegend(names,colors,sxC,tx,ys,g){
  names.forEach((n,i)=>{
    const s=mk('rect',{x:sxC-10,y:ys[i]-10.5,width:20,height:21,rx:7,ry:7,fill:colors[i],stroke:'#ddd','stroke-width':0.6},g);
    
    
    const l=txt(n,{x:tx,y:ys[i]+5,'font-size':15.5,class:'serif'},g);
    
    
  });
}
drawNetwork('network-i',netIEdges,[[netIFirmicutes,'#45a84a'],[netIBacteroidetes,'#8e44a8'],[netIUnclassified,'#ee1c25'],[netIActinobacteria,'#2b7dbd'],[netISaccharibacteria,'#f28a1e'],[netIProteobacteria,'#9a5a28'],[netIVerrucomicrobia,'#ffee20']],150,1190,2.178,2.815,8,3.6,'OTU_');
drawNetwork('network-j',netJEdges,[[netJFirmicutes,'#45a84a'],[netJBacteroidetes,'#8e44a8'],[netJUnclassified,'#ee1c25'],[netJProteobacteria,'#f7931e'],[netJActinobacteria,'#2b7dbd']],1100,1190,2.333,2.815,7.4,3,'OTU_');
(function(){
  const g=group();
  
  
  drawNetLegend(networkLegendI,networkLegendIColors,653,670.6,[1368,1403,1437.6,1475,1507,1539,1572.6],g);
  const h=group();
  
  
  drawNetLegend(networkLegendJ,networkLegendJColors,1657,1673.5,[1391.8,1425,1458,1493.7,1528],h);
})();
</script>
</body>
</html>
